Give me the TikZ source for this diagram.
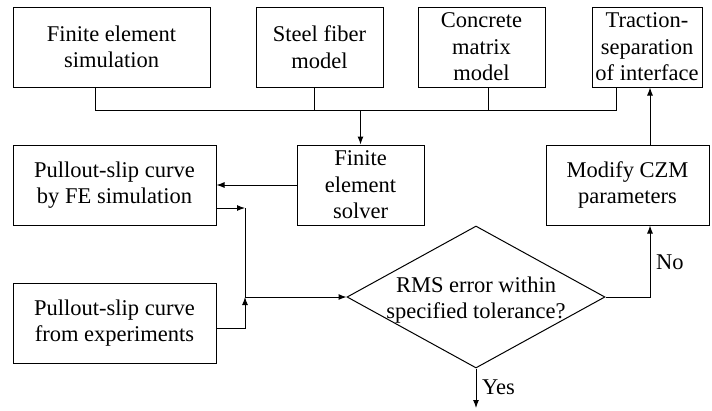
\documentclass[tikz,border=0pt]{standalone}
\usepackage{fontspec}
\setmainfont{Liberation Serif}
\newfontfamily\timesfont{Liberation Serif}
\usetikzlibrary{arrows.meta,shapes.geometric,calc}
\begin{document}
\begin{tikzpicture}[x=1pt,y=-1pt,
  every node/.style={font=\timesfont\fontsize{22.5}{26.5}\selectfont, align=center, inner sep=0pt},
  box/.style={draw, line width=1pt, minimum height=80pt},
  conn/.style={line width=1pt},
  arr/.style={line width=1pt, -{Latex[length=8pt,width=6pt]}}]
\useasboundingbox (0,0) rectangle (712,410);
% top row
\node[box, minimum width=197pt] (b1) at (111.5,47) {Finite element\\simulation};
\node[box, minimum width=127pt] (b2) at (319.5,47) {Steel fiber\\model};
\node[box, minimum width=127pt] (b3) at (481.5,47) {Concrete\\matrix\\model};
\node[box, minimum width=110pt] (b4) at (647,47) {Traction-\\separation\\of interface};
% middle row
\node[box, minimum width=203pt] (fe) at (114.5,185) {Pullout-slip curve\\by FE simulation};
\node[box, minimum width=127pt] (sol) at (360.5,185) {Finite\\element\\solver};
\node[box, minimum width=163pt] (mod) at (627.5,185) {Modify CZM\\parameters};
% bottom
\node[box, minimum width=203pt] (exp) at (114.5,323) {Pullout-slip curve\\from experiments};
\node[draw, line width=1pt, diamond, minimum width=258pt, minimum height=142pt] (dia) at (476,297) {};
\node (diat) at (476,300) {RMS error within\\specified tolerance?};
% bus
\coordinate (busL) at (95,110);
\coordinate (d2) at (314,110);
\coordinate (d3) at (488,110);
\coordinate (busR) at (616,110);
\draw[conn] (b1.south -| busL) -- (busL) -- (busR) -- (b4.south -| busR);
\draw[conn] (b2.south -| d2) -- (d2);
\draw[conn] (b3.south -| d3) -- (d3);
\draw[arr] (sol.north |- busL) -- (sol.north);
% solver to FE
\draw[arr] (sol.west) -- (fe.east);
% junction
\coordinate (j) at (245,297);
\coordinate (feo) at ($(fe.east)+(0,23)$);
\draw[arr] (feo) -- (feo -| j);
\draw[conn] (feo -| j) -- (j);
\coordinate (expo) at ($(exp.east)+(0,5)$);
\draw[arr] (expo) -| (j);
\draw[arr] (j) -- (dia.west);
% No branch
\coordinate (nc) at (650,297);
\draw[arr] (dia.east) -- (nc) -- (nc |- mod.south);
\node[anchor=west] (no) at (656,262) {No};
\coordinate (mt) at (650,145);
\draw[arr] (mt) -- (mt |- b4.south);
% Yes branch
\coordinate (yend) at (476,408);
\draw[arr] (dia.south) -- (yend);
\node[anchor=west] (yes) at (482,387) {Yes};
\end{tikzpicture}
\end{document}
